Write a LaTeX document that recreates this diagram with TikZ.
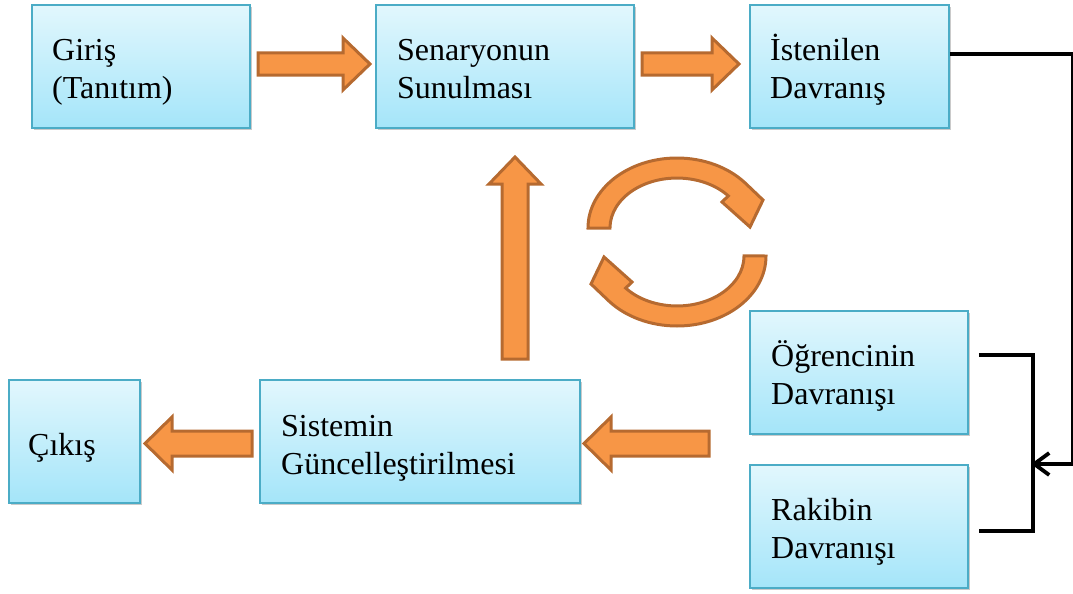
\documentclass[tikz,border=0pt]{standalone}
\usepackage{fontspec}
\setmainfont{Liberation Serif}
\usetikzlibrary{arrows.meta,shadows}
\definecolor{boxtop}{RGB}{226,247,253}
\definecolor{boxbot}{RGB}{164,229,249}
\definecolor{boxedge}{RGB}{75,172,198}
\definecolor{arrfill}{RGB}{247,150,70}
\definecolor{arredge}{RGB}{182,106,48}
\begin{document}
\begin{tikzpicture}[x=1pt,y=-1pt,
  stage/.style={draw=boxedge, line width=1.5pt, top color=boxtop, bottom color=boxbot,
    inner sep=0pt, drop shadow={shadow xshift=1.5pt, shadow yshift=-2pt, opacity=0.35, fill=black!60}},
  label/.style={anchor=base west, inner sep=0pt, align=left, font=\fontsize{32}{38}\selectfont},
  blockarrow/.style={fill=arrfill, draw=arredge, line width=3pt, line join=miter},
  conn/.style={draw=black, line width=3.8pt}]
\useasboundingbox (0,0) rectangle (1073,594);

% stage boxes
\node[stage, minimum width=218pt, minimum height=123pt] (giris) at (141,66.5) {};
\node[stage, minimum width=258pt, minimum height=123pt] (sen) at (505,66.5) {};
\node[stage, minimum width=199pt, minimum height=123pt] (ist) at (849.5,66.5) {};
\node[stage, minimum width=218pt, minimum height=123pt] (ogr) at (859,372.5) {};
\node[stage, minimum width=218pt, minimum height=123pt] (rak) at (859,526.5) {};
\node[stage, minimum width=320pt, minimum height=123pt] (sis) at (420,441.5) {};
\node[stage, minimum width=131pt, minimum height=123pt] (cik) at (74.5,441.5) {};

% box texts (anchored on the baseline of the last line)
\node[label] (giris-t) at (52,98) {Giriş\\(Tanıtım)};
\node[label] (sen-t) at (397,98) {Senaryonun\\Sunulması};
\node[label] (ist-t) at (770,98) {İstenilen\\Davranış};
\node[label] (ogr-t) at (771,404) {Öğrencinin\\Davranışı};
\node[label] (rak-t) at (771,558) {Rakibin\\Davranışı};
\node[label] (sis-t) at (281,474) {Sistemin\\Güncelleştirilmesi};
\node[label] (cik-t) at (28,455) {Çıkış};

% block arrows
\draw[blockarrow] (258,53) -- (343,53) -- (343,38) -- (370,64) -- (343,90) -- (343,75) -- (258,75) -- cycle;
\draw[blockarrow] (642,53) -- (712,53) -- (712,38) -- (739,64) -- (712,90) -- (712,75) -- (642,75) -- cycle;
\draw[blockarrow] (502,359) -- (502,184) -- (489,184) -- (515,157) -- (541,184) -- (528,184) -- (528,359) -- cycle;
\draw[blockarrow] (709,431) -- (611,431) -- (611,417) -- (584,443.5) -- (611,470) -- (611,456) -- (709,456) -- cycle;
\draw[blockarrow] (252,431) -- (172,431) -- (172,417) -- (145,443.5) -- (172,470) -- (172,456) -- (252,456) -- cycle;

% circular arrows
\draw[blockarrow] (588,228) arc[start angle=180, end angle=320, x radius=89, y radius=70]
  -- (763,200) -- (750,227) -- (722,202) -- (728.3,195.9)
  arc[start angle=320, end angle=180, x radius=67, y radius=50] -- cycle;
\begin{scope}[rotate around={180:(677,242)}]
\draw[blockarrow] (588,228) arc[start angle=180, end angle=320, x radius=89, y radius=70]
  -- (763,200) -- (750,227) -- (722,202) -- (728.3,195.9)
  arc[start angle=320, end angle=180, x radius=67, y radius=50] -- cycle;
\end{scope}

% connectors
\coordinate (merge) at (1031,464);
\draw[conn, -{Straight Barb[length=15pt,width=22pt]}] ([yshift=12.5pt]ist.east) -| (1073,464) -- (merge);
\draw[conn] ([xshift=10pt,yshift=17.5pt]ogr.east) -| ([xshift=64pt,yshift=-4.5pt]rak.east) -- ([xshift=10pt,yshift=-4.5pt]rak.east);
\end{tikzpicture}
\end{document}
